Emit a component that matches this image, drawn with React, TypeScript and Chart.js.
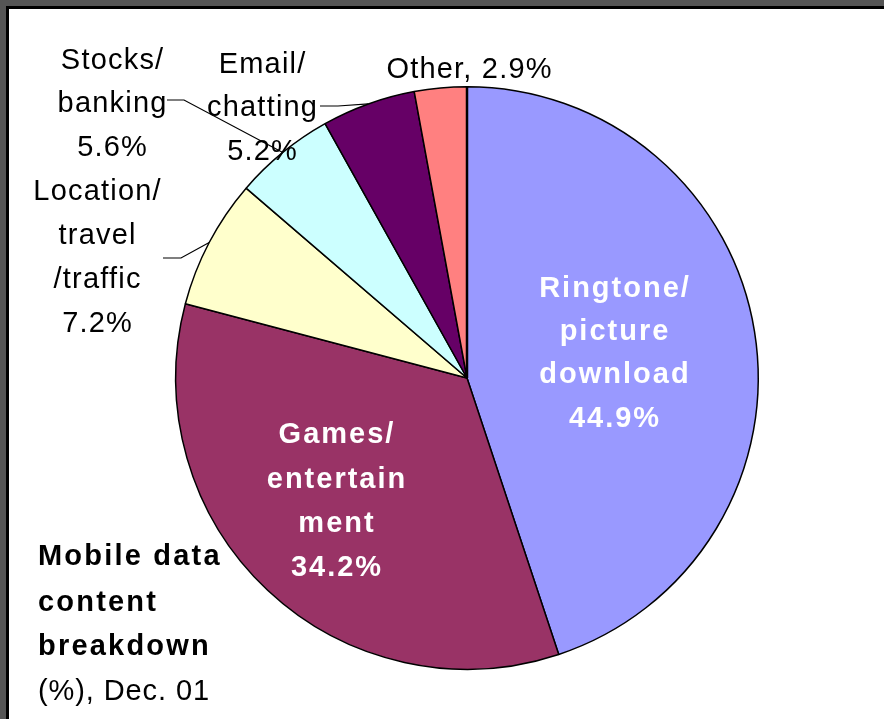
import { useEffect, useRef } from "react";
import { Chart, registerables } from "chart.js";

Chart.register(...registerables);

const categories = [
  "Ringtone/picture download",
  "Games/entertainment",
  "Location/travel/traffic",
  "Stocks/banking",
  "Email/chatting",
  "Other",
];
const shares = [44.9, 34.2, 7.2, 5.6, 5.2, 2.9];
const sliceColors = ["#9999FF", "#993366", "#FFFFCC", "#CCFFFF", "#660066", "#FF8080"];
const labelLines = [
  ["Ringtone/", "picture", "download"],
  ["Games/", "entertain", "ment"],
  ["Location/", "travel", "/traffic"],
  ["Stocks/", "banking"],
  ["Email/", "chatting"],
  ["Other,"],
];
const titleBold = ["Mobile data", "content", "breakdown"];
const titleNote = "(%), Dec. 01";

const pct = (v: number) => `${v.toFixed(1)}%`;

const FONT = "'Liberation Sans', Arial, sans-serif";

const labelPlugin = {
  id: "sliceLabels",
  afterDatasetsDraw(chart: any) {
    const ctx: CanvasRenderingContext2D = chart.ctx;
    const arcs = chart.getDatasetMeta(0).data as any[];
    ctx.save();

    const edge = (i: number) => {
      const a = arcs[i];
      const mid = (a.startAngle + a.endAngle) / 2;
      return [a.x + a.outerRadius * Math.cos(mid), a.y + a.outerRadius * Math.sin(mid)];
    };

    // emphasised starting edge
    const a0 = arcs[0];
    ctx.strokeStyle = "#000";
    ctx.lineWidth = 2.5;
    ctx.beginPath();
    ctx.moveTo(a0.x, a0.y);
    ctx.lineTo(a0.x + a0.outerRadius * Math.cos(a0.startAngle), a0.y + a0.outerRadius * Math.sin(a0.startAngle));
    ctx.stroke();

    // leader lines
    ctx.lineWidth = 1.2;
    const leader = (i: number, x1: number, x2: number, y: number) => {
      const [ex, ey] = edge(i);
      ctx.beginPath();
      ctx.moveTo(x1, y);
      ctx.lineTo(x2, y);
      ctx.lineTo(ex, ey);
      ctx.stroke();
    };
    leader(3, 167, 184, 100);
    leader(4, 320, 338, 106);
    leader(2, 163, 181, 258);

    const drawLines = (
      lines: string[],
      x: number,
      baselines: number[],
      font: string,
      color: string,
      spacing: number,
      align: CanvasTextAlign = "center"
    ) => {
      ctx.font = font;
      ctx.fillStyle = color;
      ctx.textAlign = align;
      ctx.textBaseline = "alphabetic";
      (ctx as any).letterSpacing = `${spacing}px`;
      lines.forEach((t, k) => {
        const dx = align === "center" ? spacing / 2 : 0;
        ctx.fillText(t, x + dx, baselines[k]);
      });
    };

    const bold = `bold 29px ${FONT}`;
    const reg = `29px ${FONT}`;

    // inside labels
    drawLines([...labelLines[0], pct(shares[0])], 614, [297, 340, 383, 427], bold, "#fff", 2);
    drawLines([...labelLines[1], pct(shares[1])], 336, [443, 488, 532, 576], bold, "#fff", 2);

    // outside labels
    drawLines([...labelLines[2], pct(shares[2])], 97, [200, 244, 288, 332], reg, "#000", 1.2);
    drawLines([...labelLines[3], pct(shares[3])], 112, [69, 112, 156], reg, "#000", 1.2);
    drawLines([...labelLines[4], pct(shares[4])], 262, [73, 116, 160], reg, "#000", 1.2);
    drawLines([`${labelLines[5][0]} ${pct(shares[5])}`], 469, [78], reg, "#000", 1.2);

    // title
    drawLines(titleBold, 38, [565, 611, 655], bold, "#000", 2.2, "left");
    drawLines([titleNote], 38, [700], reg, "#000", 0.9, "left");

    ctx.restore();
  },
};

export default function App() {
  const ref = useRef<HTMLCanvasElement>(null);
  useEffect(() => {
    document.body.style.margin = "0";
    const chart = new Chart(ref.current as HTMLCanvasElement, {
      type: "pie",
      data: {
        labels: categories,
        datasets: [
          {
            data: shares,
            backgroundColor: sliceColors,
            borderColor: "#000",
            borderWidth: 1.5,
            hoverOffset: 0,
          },
        ],
      },
      options: {
        responsive: false,
        animation: false,
        events: [],
        layout: { padding: { left: 175, top: 86, right: 125, bottom: 49 } },
        plugins: { legend: { display: false }, tooltip: { enabled: false } },
      },
      plugins: [labelPlugin],
    } as any);
    return () => chart.destroy();
  }, []);

  return (
    <div style={{ position: "fixed", inset: 0, background: "#555", overflow: "hidden" }}>
      <div
        style={{
          position: "absolute",
          left: 6,
          top: 6,
          right: -10,
          bottom: -10,
          background: "#fff",
          borderLeft: "3px solid #000",
          borderTop: "3px solid #000",
        }}
      />
      <canvas
        ref={ref}
        width={884}
        height={719}
        style={{ position: "absolute", left: 0, top: 0, width: 884, height: 719 }}
      />
    </div>
  );
}
